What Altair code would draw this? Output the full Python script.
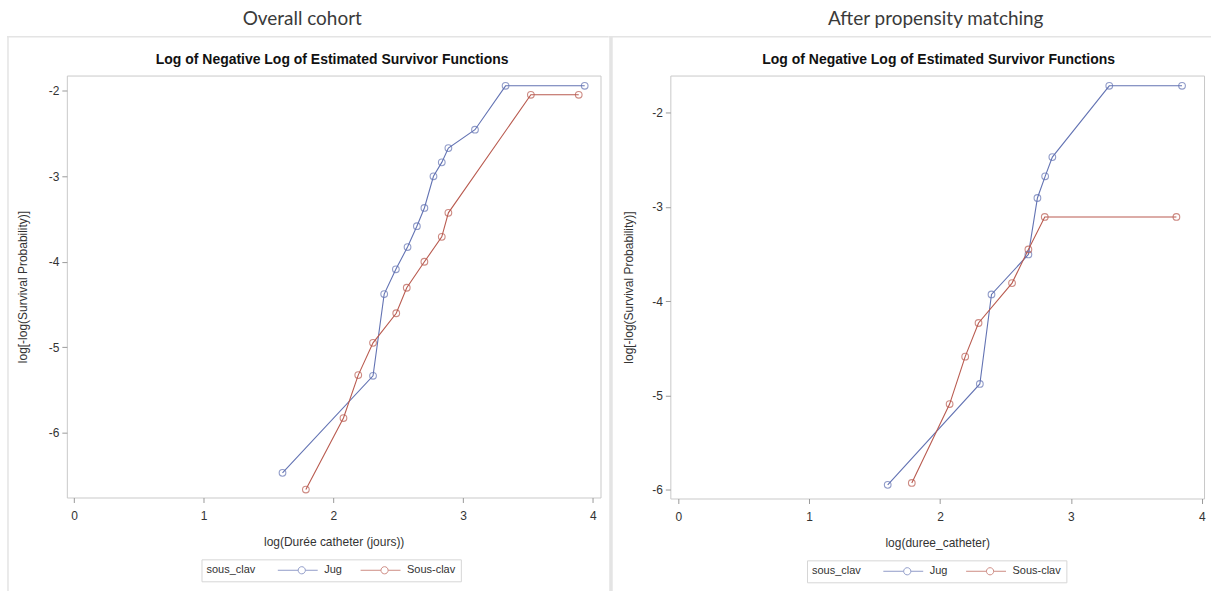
import altair as alt
import pandas as pd

# ---- Overall cohort: log(time) vs log(-log S(t)) ----
all_jug_x = [1.608, 2.306, 2.392, 2.482, 2.572, 2.644, 2.702, 2.772, 2.836, 2.887, 3.092, 3.328, 3.938]
all_jug_y = [-6.47, -5.335, -4.38, -4.09, -3.83, -3.586, -3.373, -3.003, -2.84, -2.673, -2.458, -1.945, -1.945]
all_sc_x = [1.788, 2.078, 2.192, 2.306, 2.485, 2.566, 2.702, 2.836, 2.887, 3.523, 3.892]
all_sc_y = [-6.665, -5.829, -5.327, -4.95, -4.604, -4.306, -4.002, -3.711, -3.43, -2.05, -2.05]

# ---- After propensity matching ----
pm_jug_x = [1.600, 2.304, 2.393, 2.675, 2.744, 2.803, 2.858, 3.293, 3.849]
pm_jug_y = [-5.95, -4.88, -3.93, -3.506, -2.907, -2.677, -2.473, -1.717, -1.717]
pm_sc_x = [1.784, 2.073, 2.192, 2.294, 2.550, 2.675, 2.800, 3.806]
pm_sc_y = [-5.93, -5.093, -4.59, -4.233, -3.81, -3.453, -3.108, -3.108]

groups = ["Jug", "Sous-clav"]
x_ticks = [0, 1, 2, 3, 4]
y_ticks_all = [-6, -5, -4, -3, -2]
y_ticks_pm = [-6, -5, -4, -3, -2]

BLUE = "#6373b3"
RED = "#b95b50"
NARROW = "Liberation Sans Narrow, Arial Narrow, Liberation Sans, sans-serif"
TXT = "#333333"
FRAME = "#e4e4e4"

# legend glyph: short line with an open circle in the middle, drawn to the right of its anchor
LEG_SYMBOL = ("M-1,0H4.1 M5.9,0H9 "
              "M4.1,0A0.9,0.9 0 1,0 5.9,0A0.9,0.9 0 1,0 4.1,0")

W = 535


def frame_df(jx, jy, sx, sy):
    rows = [{"x": a, "y": b, "group": "Jug"} for a, b in zip(jx, jy)]
    rows += [{"x": a, "y": b, "group": "Sous-clav"} for a, b in zip(sx, sy)]
    return pd.DataFrame(rows)


def panel(df, xdom, ydom, yticks, xtitle, outer_title, h,
          bg_left, bg_right, top_line_left, left_line_x, legend_x, legend_y,
          outer_x, inner_x, ytitle_pad):
    one = alt.Data(values=[{}])
    xenc = alt.X("x:Q", scale=alt.Scale(domain=xdom, nice=False, zero=False),
                 axis=alt.Axis(values=x_ticks, labelExpr="'' + datum.value", title=xtitle,
                               titlePadding=15, labelPadding=8))
    yenc = alt.Y("y:Q", scale=alt.Scale(domain=ydom, nice=False, zero=False),
                 axis=alt.Axis(values=yticks, labelExpr="'' + datum.value",
                               title="log[-log(Survival Probability)]",
                               titlePadding=ytitle_pad, labelPadding=3))
    cenc = alt.Color("group:N", scale=alt.Scale(domain=groups, range=[BLUE, RED]),
                     legend=alt.Legend(title="sous_clav", orient="none", direction="horizontal",
                                       legendX=legend_x, legendY=legend_y, titleOrient="left",
                                       titleAlign="left",
                                       symbolType=LEG_SYMBOL, symbolSize=64, symbolStrokeWidth=1,
                                       symbolFillColor="transparent",
                                       labelOffset=37, columnPadding=16, titlePadding=21,
                                       strokeColor="#d6d6d6", fillColor="white", padding=5,
                                       titleFont=NARROW, titleFontSize=11, titleFontWeight="normal",
                                       titleColor=TXT, labelFont=NARROW, labelFontSize=11,
                                       labelColor=TXT, titleBaseline="middle"))

    # invisible rectangle that fixes the panel's outer extent
    bg = alt.Chart(one).mark_rect(fill="white", opacity=0).encode(
        x=alt.value(bg_left), x2=alt.value(bg_right), y=alt.value(-74), y2=alt.value(517))
    top_line = alt.Chart(one).mark_rule(color=FRAME, strokeWidth=1.5).encode(
        x=alt.value(top_line_left), x2=alt.value(bg_right), y=alt.value(-39))
    left_line = alt.Chart(one).mark_rule(color=FRAME, strokeWidth=left_line_x[1]).encode(
        x=alt.value(left_line_x[0]), y=alt.value(-39), y2=alt.value(517))
    outer = alt.Chart(one).mark_text(font="Lato, Open Sans, sans-serif", fontSize=19,
                                     color="#3a3a3a", baseline="middle").encode(
        x=alt.value(outer_x), y=alt.value(-57), text=alt.value(outer_title))
    inner = alt.Chart(one).mark_text(font=NARROW, fontSize=14, fontWeight="bold",
                                     color="#111111", baseline="middle").encode(
        x=alt.value(inner_x), y=alt.value(-16),
        text=alt.value("Log of Negative Log of Estimated Survivor Functions"))

    base = alt.Chart(df)
    lines = base.mark_line(strokeWidth=1.1).encode(x=xenc, y=yenc, color=cenc, order="x:Q")
    pts = base.mark_point(shape="circle", filled=False, size=45, strokeWidth=1.1).encode(
        x=xenc, y=yenc, color=cenc)
    return alt.layer(bg, top_line, left_line, outer, inner, lines, pts).properties(
        width=W, height=h)


left = panel(frame_df(all_jug_x, all_jug_y, all_sc_x, all_sc_y),
             [-0.055, 4.06], [-6.758, -1.825], y_ticks_all,
             "log(Durée catheter (jours))", "Overall cohort", 423,
             bg_left=-66, bg_right=543, top_line_left=-60, left_line_x=(-59, 1.5),
             legend_x=135, legend_y=485, outer_x=236, inner_x=266, ytitle_pad=19)

right = panel(frame_df(pm_jug_x, pm_jug_y, pm_sc_x, pm_sc_y),
              [-0.061, 4.017], [-6.095, -1.608], y_ticks_pm,
              "log(duree_catheter)", "After propensity matching", 424,
              bg_left=-62, bg_right=542, top_line_left=-62, left_line_x=(-59.5, 3.5),
              legend_x=137, legend_y=486, outer_x=266, inner_x=269, ytitle_pad=16)

chart = alt.hconcat(left, right, spacing=70, bounds="flush").properties(
    padding=0, background="white"
).configure_view(stroke="#c9c9c9", strokeWidth=1).configure_axis(
    grid=False, domain=False, tickColor="#9a9a9a", tickSize=5,
    labelFont=NARROW, labelFontSize=12, labelColor=TXT,
    titleFont=NARROW, titleFontSize=12, titleFontWeight="normal", titleColor=TXT
).resolve_scale(color="independent")

chart.save("out.html", embed_options={"renderer": "svg", "actions": False})
